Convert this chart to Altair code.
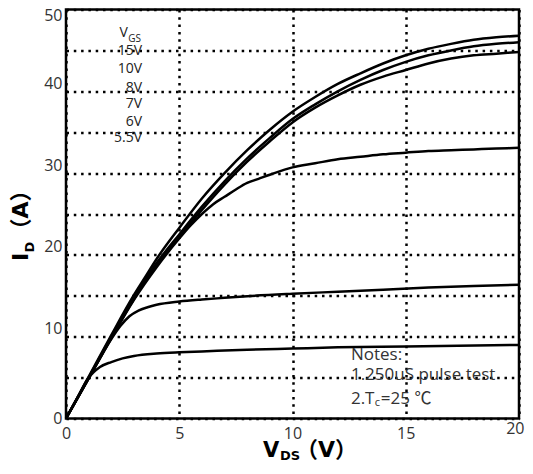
import altair as alt
import pandas as pd

# ---- data ----
series = ["15V", "10V", "8V", "7V", "6V", "5.5V"]

v_15 = [0, 1, 2, 3, 3.5, 4, 5, 6, 7, 8, 9, 10, 11, 12, 13, 14, 15, 16, 17, 18, 19, 20]
i_15 = [0, 5.1, 10.2, 15.1, 17.3, 19.5, 23.3, 26.9, 30.0, 32.8, 35.3, 37.5, 39.3, 40.9, 42.2, 43.4, 44.4, 45.2, 45.8, 46.3, 46.6, 46.8]

v_10 = [0, 1, 2, 3, 3.5, 4, 5, 6, 7, 8, 9, 10, 11, 12, 13, 14, 15, 16, 17, 18, 19, 20]
i_10 = [0, 5.0, 10.0, 14.8, 17.0, 19.0, 22.5, 25.9, 29.0, 31.8, 34.3, 36.6, 38.4, 40.0, 41.4, 42.6, 43.6, 44.4, 45.0, 45.5, 45.8, 46.0]

v_8 = [0, 1, 2, 3, 3.5, 4, 5, 6, 7, 8, 9, 10, 11, 12, 13, 14, 15, 16, 17, 18, 19, 20]
i_8 = [0, 4.9, 9.9, 14.6, 16.8, 18.8, 22.2, 25.5, 28.6, 31.4, 33.9, 36.2, 38.0, 39.5, 40.8, 41.8, 42.6, 43.4, 44.0, 44.4, 44.6, 44.8]

v_7 = [0, 1, 2, 3, 4, 5, 5.5, 6, 6.5, 7, 7.5, 8, 8.5, 9, 10, 11, 12, 13, 14, 15, 16, 17, 18, 19, 20]
i_7 = [0, 4.9, 9.8, 14.5, 18.5, 22.0, 23.6, 25.0, 26.2, 27.1, 28.0, 28.8, 29.3, 29.8, 30.7, 31.2, 31.7, 32.0, 32.3, 32.5, 32.7, 32.8, 32.9, 33.0, 33.1]

v_6 = [0, 1, 2, 2.4, 2.8, 3.2, 3.6, 4, 5, 6, 7, 8, 10, 12, 14, 16, 18, 20]
i_6 = [0, 4.9, 9.7, 11.3, 12.5, 13.2, 13.6, 13.9, 14.3, 14.55, 14.75, 14.95, 15.25, 15.5, 15.75, 16.0, 16.2, 16.35]

v_55 = [0, 0.5, 1, 1.2, 1.5, 2, 2.5, 3, 4, 5, 6, 8, 10, 12, 15, 20]
i_55 = [0, 2.5, 5.0, 5.6, 6.3, 6.9, 7.35, 7.65, 7.95, 8.1, 8.2, 8.4, 8.55, 8.7, 8.8, 9.0]

x_ticks = [0, 5, 10, 15, 20]
y_ticks = [0, 5, 10, 15, 20, 25, 30, 35, 40, 45, 50]

# curve label annotations (data units)
label_text = ["15V", "10V", "8V", "7V", "6V", "5.5V"]
label_x = [3.36, 3.36, 3.36, 3.36, 3.36, 3.36]
label_y = [44.9, 42.7, 40.4, 38.45, 36.25, 34.3]

notes_text = ["Notes:", "1.250uS pulse test", "2.T"]
notes_x = [12.58, 12.58, 12.58]
notes_y = [7.76, 5.32, 2.44]

# ---- build table ----
rows = []
for k, (name, vs, is_) in enumerate(zip(series, [v_15, v_10, v_8, v_7, v_6, v_55],
                                        [i_15, i_10, i_8, i_7, i_6, i_55])):
    for v, i in zip(vs, is_):
        rows.append({"series": name, "vds": v, "id": i, "k": k})
df = pd.DataFrame(rows)

LAT = "Open Sans, Noto Sans CJK SC"
TIT = "DejaVu Sans, Noto Sans CJK SC"

x_enc = alt.X(
    "vds:Q",
    scale=alt.Scale(domain=[0, 20], nice=False, zero=True),
    axis=alt.Axis(
        values=x_ticks, title=None, grid=True, gridColor="black", gridWidth=2.5,
        gridDash=[2.5, 4.8], domain=False, ticks=False, tickSize=0,
        labelFont=LAT, labelFontSize=16, labelColor="#333",
        labelPadding={"condition": {"test": "datum.value == 20", "value": 2}, "value": 7},
        labelAlign={"condition": {"test": "datum.value == 20", "value": "right"}, "value": "center"},
        labelOffset={"condition": {"test": "datum.value == 20", "value": 5}, "value": 0},
    ),
)
y_enc = alt.Y(
    "id:Q",
    scale=alt.Scale(domain=[0, 50], nice=False, zero=True),
    axis=alt.Axis(
        values=y_ticks, title=None, grid=True, gridColor="black", gridWidth=2.5,
        gridDash=[2.5, 4.8], domain=False, ticks=False, tickSize=0,
        labelExpr="datum.value % 10 == 0 ? datum.label : ''",
        labelFont=LAT, labelFontSize=16, labelColor="#333", labelPadding=4,
        labelBaseline={"condition": {"test": "datum.value == 0 || datum.value == 50", "value": "middle"},
                       "value": "bottom"},
        labelOffset={"condition": {"test": "datum.value == 50", "value": 6}, "value": 0},
    ),
)

lines = alt.Chart(df).mark_line(color="black", strokeWidth=2.5, interpolate="monotone").encode(
    x=x_enc, y=y_enc, detail="series:N", order="vds:Q"
)

lab_df = pd.DataFrame({"vds": label_x, "id": label_y, "text": label_text})
labels = alt.Chart(lab_df).mark_text(align="right", baseline="middle", font=LAT,
                                     fontSize=14, color="#222").encode(
    x=x_enc, y=y_enc, text="text:N")

vgs_df = pd.DataFrame({"vds": [2.73], "id": [47.13], "text": ["V"]})
vgs = alt.Chart(vgs_df).mark_text(align="right", baseline="middle", font=LAT,
                                  fontSize=14, color="#222").encode(x=x_enc, y=y_enc, text="text:N")
gs_df = pd.DataFrame({"vds": [2.75], "id": [46.4], "text": ["GS"]})
gs = alt.Chart(gs_df).mark_text(align="left", baseline="middle", font=LAT,
                                fontSize=10, color="#222").encode(x=x_enc, y=y_enc, text="text:N")

notes_df = pd.DataFrame({"vds": notes_x, "id": notes_y, "text": notes_text})
notes = alt.Chart(notes_df).mark_text(align="left", baseline="middle", font=LAT,
                                      fontSize=17, color="#333").encode(x=x_enc, y=y_enc, text="text:N")
sub_c = alt.Chart(pd.DataFrame({"vds": [13.63], "id": [1.9], "text": ["c"]})).mark_text(
    align="left", baseline="middle", font=LAT, fontSize=11, color="#333").encode(
    x=x_enc, y=y_enc, text="text:N")
tc_rest = alt.Chart(pd.DataFrame({"vds": [13.9], "id": [2.44], "text": ["=25 ℃"]})).mark_text(
    align="left", baseline="middle", font=LAT, fontSize=17, color="#333").encode(
    x=x_enc, y=y_enc, text="text:N")

anchor = pd.DataFrame({"a": [0]})
def title_text(txt, x, y, size, angle=0):
    return alt.Chart(anchor).mark_text(
        text=txt, align="left", baseline="alphabetic", font=TIT, fontSize=size,
        fontWeight="bold", color="black", angle=angle
    ).encode(x=alt.value(x), y=alt.value(y))

xt1 = title_text("V", 197, 447.5, 21)
xt2 = title_text("DS", 214, 450.5, 13)
xt3 = title_text("（V）", 230, 447.5, 22)
yt1 = title_text("I", -38, 251.5, 22, 270)
yt2 = title_text("D", -32, 243.0, 13, 270)
yt3 = title_text("（A）", -38, 231, 22, 270)

chart = alt.layer(
    lines, labels, vgs, gs, notes, sub_c, tc_rest, xt1, xt2, xt3, yt1, yt2, yt3
).properties(
    width=453, height=409,
    autosize=alt.AutoSizeParams(type="none"),
    padding={"left": 58, "top": 1.5, "right": 6, "bottom": 44},
).configure_view(stroke="black", strokeWidth=2.5)

chart.save("out.html", embed_options={"renderer": "svg", "actions": False})
